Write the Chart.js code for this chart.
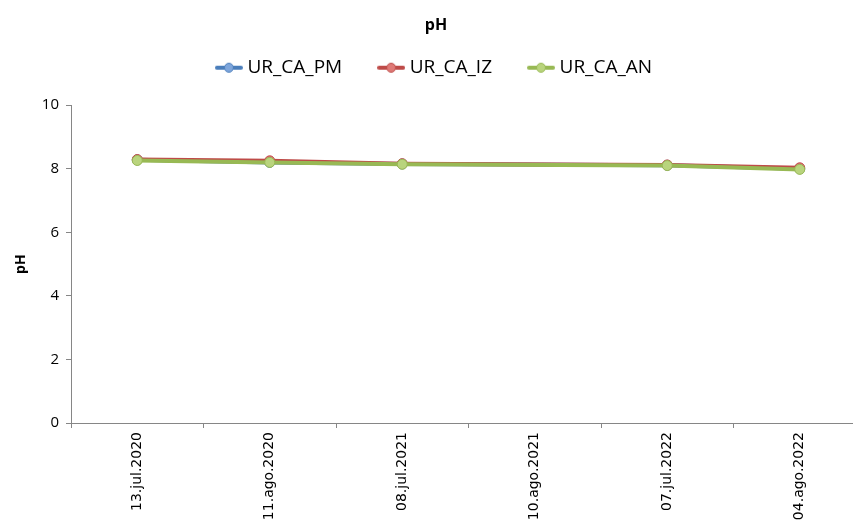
<!DOCTYPE html>
<html>
<head>
<meta charset="utf-8">
<script src="https://cdn.jsdelivr.net/npm/chart.js@4/dist/chart.umd.min.js"></script>
<style>
  html, body { margin: 0; padding: 0; background: #fff; overflow: hidden; }
  #wrap { width: 853px; height: 531px; overflow: hidden; }
</style>
</head>
<body>
<div id="wrap"><canvas id="phChart" width="880" height="560"></canvas></div>
<script>
const dates = ["13.jul.2020", "11.ago.2020", "08.jul.2021", "10.ago.2021", "07.jul.2022", "04.ago.2022"];
const phPM = [8.28, 8.20, 8.15, null, 8.11, 8.00];
const phIZ = [8.29, 8.25, 8.16, null, 8.12, 8.03];
const phAN = [8.26, 8.20, 8.14, null, 8.10, 7.98];
const yTicks = [0, 2, 4, 6, 8, 10];

// line + dot icon for the legend, like the spreadsheet one
function legendIcon(lineColor, dotColor) {
    const c = document.createElement("canvas");
    c.width = 28; c.height = 12;
    const g = c.getContext("2d");
    g.strokeStyle = lineColor;
    g.lineWidth = 4;
    g.lineCap = "round";
    g.beginPath(); g.moveTo(2, 6); g.lineTo(26, 6); g.stroke();
    g.fillStyle = dotColor;
    g.strokeStyle = lineColor;
    g.lineWidth = 1;
    g.beginPath(); g.arc(14, 6, 4.5, 0, Math.PI * 2); g.fill(); g.stroke();
    return c;
}

const series = [
    { label: "UR_CA_PM", data: phPM, line: "#4A7EBB", dot: "#7EA6DC", order: 3 },
    { label: "UR_CA_IZ", data: phIZ, line: "#BE4B48", dot: "#DF7A77", order: 2 },
    { label: "UR_CA_AN", data: phAN, line: "#98B954", dot: "#B9D47D", order: 1 }
];

// extra room between legend and plot
const legendGap = {
    id: "legendGap",
    beforeInit(chart) {
        const fit = chart.legend.fit;
        chart.legend.fit = function () {
            fit.bind(chart.legend)();
            this.height += 18;
        };
    }
};

new Chart(document.getElementById("phChart"), {
    type: "line",
    data: {
        labels: dates,
        datasets: series.map(s => ({
            label: s.label,
            data: s.data,
            order: s.order,
            borderColor: s.line,
            backgroundColor: s.dot,
            borderWidth: 4,
            pointRadius: 5,
            pointBackgroundColor: s.dot,
            pointBorderColor: s.line,
            pointBorderWidth: 1,
            pointStyle: "circle",
            tension: 0,
            spanGaps: true,
            fill: false
        }))
    },
    options: {
        responsive: false,
        animation: false,
        layout: { padding: { left: 6, right: 14, top: 0, bottom: 0 } },
        plugins: {
            title: {
                display: true,
                text: "pH",
                color: "#000",
                font: { family: "'Open Sans', sans-serif", size: 16, weight: "bold" },
                padding: { top: 16, bottom: -17 }
            },
            legend: {
                display: true,
                position: "top",
                labels: {
                    color: "#000",
                    font: { family: "'Open Sans', sans-serif", size: 19 },
                    usePointStyle: true,
                    pointStyleWidth: 18,
                    padding: 40,
                    sort: (a, b) => a.datasetIndex - b.datasetIndex,
                    generateLabels(chart) {
                        return chart.data.datasets.map((ds, i) => ({
                            text: ds.label,
                            datasetIndex: i,
                            pointStyle: legendIcon(series[i].line, series[i].dot),
                            fontColor: "#000",
                            lineWidth: 0,
                            hidden: false
                        }));
                    }
                }
            },
            tooltip: { enabled: false }
        },
        scales: {
            x: {
                offset: true,
                grid: { display: true, offset: true, drawOnChartArea: false, drawTicks: true, tickLength: 5, color: "#868686" },
                border: { display: true, color: "#868686", width: 1 },
                ticks: {
                    color: "#000",
                    font: { family: "'DejaVu Sans', sans-serif", size: 14 },
                    minRotation: 90,
                    maxRotation: 90,
                    padding: 4,
                    autoSkip: false
                },
                afterFit(scale) { scale.height = 137; }
            },
            y: {
                min: 0,
                max: 10,
                afterBuildTicks(scale) { scale.ticks = yTicks.map(v => ({ value: v })); },
                grid: { display: true, drawOnChartArea: false, drawTicks: true, tickLength: 5, color: "#868686" },
                border: { display: true, color: "#868686", width: 1 },
                ticks: {
                    color: "#000",
                    font: { family: "'Open Sans', sans-serif", size: 15 },
                    padding: 7
                },
                title: {
                    display: true,
                    text: "pH",
                    color: "#000",
                    font: { family: "'Open Sans', sans-serif", size: 14, weight: "bold" },
                    padding: { top: 7, bottom: 0 }
                },
                afterFit(scale) { scale.width = 65; }
            }
        }
    },
    plugins: [legendGap]
});
</script>
</body>
</html>
